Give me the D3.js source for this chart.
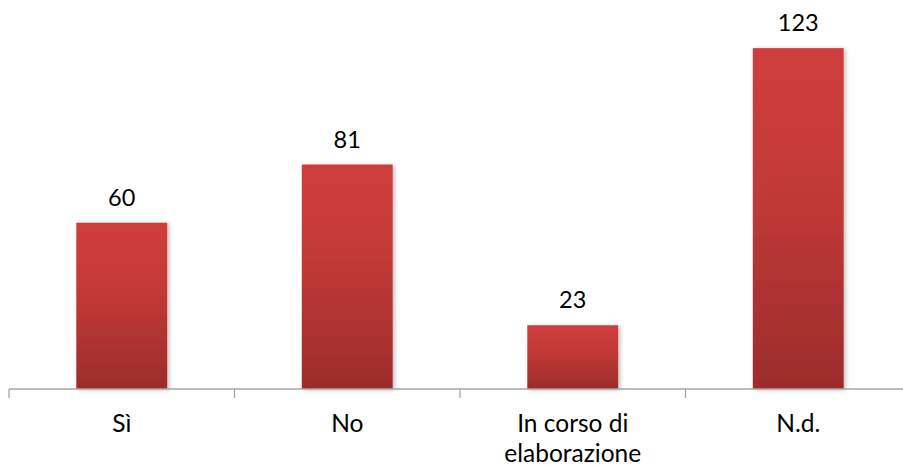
<!DOCTYPE html>
<html>
<head>
<meta charset="utf-8">
<script src="https://cdn.jsdelivr.net/npm/d3@7"></script>
<style>
  body { margin: 0; background: #fff; }
  svg { display: block; font-family: Lato, "Open Sans", sans-serif; }
</style>
</head>
<body>
<svg id="chart" width="903" height="467"></svg>
<script>
var categories = ["Sì", "No", "In corso di|elaborazione", "N.d."];
var values = [60, 81, 23, 123];
var yMax = 140;

var svg = d3.select("#chart");
var base = 389;

var x = d3.scaleBand()
    .domain(categories)
    .range([9, 911])
    .paddingInner(0.597)
    .paddingOuter(0.2985);

var y = d3.scaleLinear()
    .domain([0, yMax])
    .range([base, 1]);

var defs = svg.append("defs");
var grad = defs.append("linearGradient")
    .attr("id", "barGrad")
    .attr("x1", 0).attr("y1", 0).attr("x2", 0).attr("y2", 1);
grad.append("stop").attr("offset", "0%").attr("stop-color", "#cf3e3b");
grad.append("stop").attr("offset", "45%").attr("stop-color", "#c03936");
grad.append("stop").attr("offset", "100%").attr("stop-color", "#9c2c2b");

var shadow = defs.append("filter").attr("id", "shadow")
    .attr("x", "-10%").attr("y", "-10%").attr("width", "130%").attr("height", "130%");
shadow.append("feDropShadow")
    .attr("dx", 2).attr("dy", 1).attr("stdDeviation", 2)
    .attr("flood-color", "#000").attr("flood-opacity", 0.25);

var data = categories.map(function (c, i) { return { cat: c, val: values[i] }; });

svg.selectAll("rect.bar")
    .data(data)
    .enter().append("rect")
    .attr("class", "bar")
    .attr("x", function (d) { return x(d.cat); })
    .attr("y", function (d) { return y(d.val); })
    .attr("width", x.bandwidth())
    .attr("height", function (d) { return base - y(d.val); })
    .attr("fill", "url(#barGrad)")
    .attr("filter", "url(#shadow)");

svg.selectAll("text.val")
    .data(data)
    .enter().append("text")
    .attr("class", "val")
    .attr("x", function (d) { return x(d.cat) + x.bandwidth() / 2; })
    .attr("y", function (d) { return y(d.val) - 17; })
    .attr("text-anchor", "middle")
    .attr("font-size", 23.5)
    .attr("fill", "#000")
    .text(function (d) { return d.val; });

// x axis
var axis = d3.axisBottom(x).tickSize(0).tickFormat("");
var g = svg.append("g").attr("transform", "translate(0," + base + ")").call(axis);
g.select(".domain").attr("stroke", "#a6a6a6").attr("stroke-width", 1.3).attr("d", "M9,0H911");

var step = x.step();
var edges = d3.range(categories.length + 1).map(function (i) { return 9 + i * step; });
g.selectAll("line.sep")
    .data(edges)
    .enter().append("line")
    .attr("class", "sep")
    .attr("x1", function (d) { return d; })
    .attr("x2", function (d) { return d; })
    .attr("y1", 0).attr("y2", 9)
    .attr("stroke", "#a6a6a6").attr("stroke-width", 1.3);

var labels = svg.selectAll("text.cat")
    .data(categories)
    .enter().append("text")
    .attr("class", "cat")
    .attr("text-anchor", "middle")
    .attr("font-size", 24.5)
    .attr("fill", "#000");

labels.each(function (c) {
    var lines = c.split("|");
    var t = d3.select(this);
    lines.forEach(function (ln, i) {
        t.append("tspan")
            .attr("x", x(c) + x.bandwidth() / 2)
            .attr("y", 432 + i * 30)
            .text(ln);
    });
});
</script>
</body>
</html>
